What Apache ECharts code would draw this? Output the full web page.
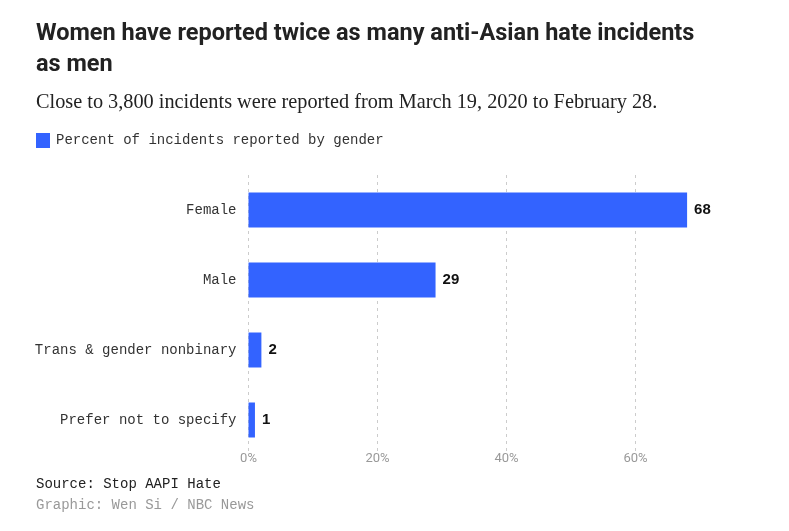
<!DOCTYPE html>
<html>
<head>
<meta charset="utf-8">
<script src="https://cdn.jsdelivr.net/npm/echarts@6/dist/echarts.min.js"></script>
<style>
  html, body { margin: 0; padding: 0; background: #fff; }
  #chart { width: 789px; height: 531px; }
</style>
</head>
<body>
<div id="chart"></div>
<script>
// data
var categories = ['Female', 'Male', 'Trans & gender nonbinary', 'Prefer not to specify'];
var values = [68, 29, 2, 1];
var seriesName = 'Percent of incidents reported by gender';

var mono = '"Liberation Mono", "DejaVu Sans Mono", monospace';

var myChart = echarts.init(document.getElementById('chart'));
var option = {
    backgroundColor: '#fff',
    animation: false,
    title: [
        {
            text: 'Women have reported twice as many anti-Asian hate incidents\nas men',
            left: 36,
            top: 19,
            padding: 0,
            textStyle: {
                fontFamily: 'Roboto',
                fontWeight: 'bold',
                fontSize: 23.5,
                lineHeight: 31,
                color: '#222'
            }
        },
        {
            text: 'Close to 3,800 incidents were reported from March 19, 2020 to February 28.',
            left: 36,
            top: 93,
            padding: 0,
            textStyle: {
                fontFamily: '"Liberation Serif", serif',
                fontWeight: 'normal',
                fontSize: 20.3,
                color: '#222'
            }
        },
        {
            text: 'Source: Stop AAPI Hate',
            left: 36,
            top: 477,
            padding: 0,
            textStyle: { fontFamily: mono, fontWeight: 'normal', fontSize: 14, color: '#222' }
        },
        {
            text: 'Graphic: Wen Si / NBC News',
            left: 36,
            top: 498,
            padding: 0,
            textStyle: { fontFamily: mono, fontWeight: 'normal', fontSize: 14, color: '#999' }
        }
    ],
    legend: {
        left: 36,
        top: 133,
        padding: 0,
        icon: 'rect',
        itemWidth: 14,
        itemHeight: 15,
        itemGap: 6,
        selectedMode: false,
        textStyle: { fontFamily: mono, fontSize: 14, color: '#333', padding: [0, 0, 0, 1] },
        data: [seriesName]
    },
    grid: {
        left: 248.5,
        right: 89,
        top: 175,
        height: 280
    },
    xAxis: {
        type: 'value',
        min: 0,
        max: 70,
        interval: 20,
        axisLine: { show: false },
        axisTick: { show: false },
        axisLabel: {
            showMaxLabel: false,
            margin: -3,
            fontFamily: 'Roboto',
            fontSize: 13,
            color: '#999',
            formatter: '{value}%'
        },
        splitLine: {
            showMaxLine: false,
            lineStyle: { color: '#ccc', type: [3, 4] }
        }
    },
    yAxis: {
        type: 'category',
        inverse: true,
        data: categories,
        axisLine: { show: false },
        axisTick: { show: false },
        axisLabel: {
            margin: 12,
            fontFamily: mono,
            fontSize: 14,
            color: '#333'
        }
    },
    series: [
        {
            name: seriesName,
            type: 'bar',
            data: values,
            barWidth: 35,
            itemStyle: { color: '#3363ff' },
            label: {
                show: true,
                position: 'right',
                distance: 7,
                fontFamily: '"Liberation Sans", Arial, sans-serif',
                fontWeight: 'bold',
                fontSize: 15,
                color: '#111'
            }
        }
    ]
};
myChart.setOption(option);
</script>
</body>
</html>
